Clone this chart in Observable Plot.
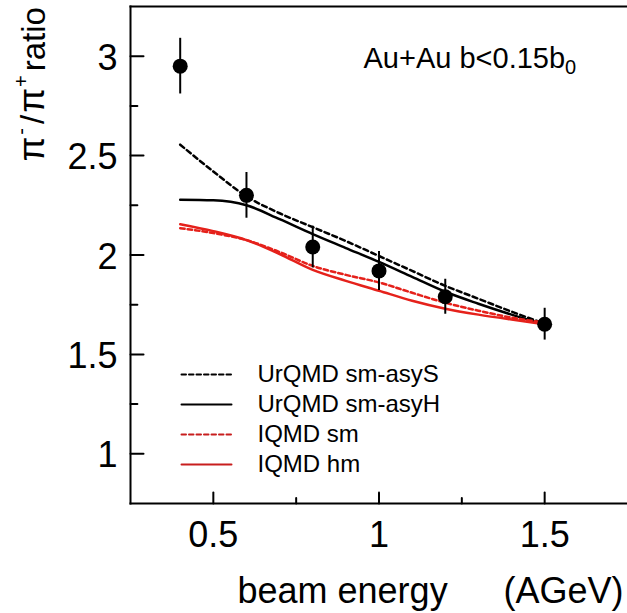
<!DOCTYPE html>
<html>
<head>
<meta charset="utf-8">
<script src="https://cdn.jsdelivr.net/npm/d3@7"></script>
<script src="https://cdn.jsdelivr.net/npm/@observablehq/plot@0.6"></script>
<style>
  html, body { margin: 0; padding: 0; background: #fff; }
</style>
</head>
<body>
<div id="chart"></div>
<script>
// ---- data ----
const energies = [0.4, 0.6, 0.8, 1.0, 1.2, 1.5];
const ratio    = [2.95, 2.30, 2.04, 1.92, 1.79, 1.652];
const ratioErr = [0.14, 0.115, 0.105, 0.098, 0.088, 0.08];

const curveEnergies = [0.4, 0.5, 0.6, 0.7, 0.8, 0.9, 1.0, 1.1, 1.2, 1.3, 1.4, 1.5];
const urqmdAsyS = [2.555, 2.42, 2.295, 2.21, 2.14, 2.07, 1.995, 1.92, 1.845, 1.78, 1.715, 1.655];
const urqmdAsyH = [2.278, 2.275, 2.25, 2.18, 2.105, 2.035, 1.965, 1.89, 1.815, 1.755, 1.70, 1.65];
const iqmdSm    = [2.135, 2.11, 2.075, 2.015, 1.945, 1.90, 1.862, 1.81, 1.76, 1.72, 1.685, 1.66];
const iqmdHm    = [2.155, 2.12, 2.075, 2.005, 1.925, 1.87, 1.82, 1.77, 1.73, 1.70, 1.675, 1.652];

const legendLabels = ["UrQMD sm-asyS", "UrQMD sm-asyH", "IQMD sm", "IQMD hm"];
const xTicksMajor = [0.5, 1, 1.5];
const xTicksMinor = [0.75, 1.25];
const yTicksMajor = [1, 1.5, 2, 2.5, 3];
const yTicksMinor = [1.25, 1.75, 2.25, 2.75];
const xLabelMain = "beam energy";
const xLabelUnit = "(AGeV)";
const yLabel = "π-/π+ratio";
const annotation = "Au+Au b<0.15b";
const annotationSub = "0";

// ---- layout ----
const W = 627, H = 613, ML = 130, MR = 0, MT = 6, MB = 110;
const frameW = W - ML - MR, frameH = H - MT - MB;
const xDomain = [0.25, 1.75], yDomain = [0.75, 3.25];

// ---- derived tables ----
const points = energies.map((e, i) => ({e, r: ratio[i], lo: ratio[i] - ratioErr[i], hi: ratio[i] + ratioErr[i]}));
const seriesDefs = [
  {name: legendLabels[0], values: urqmdAsyS, stroke: "#000", dash: "5,3.5", legendStroke: "#000"},
  {name: legendLabels[1], values: urqmdAsyH, stroke: "#000", dash: null, legendStroke: "#000"},
  {name: legendLabels[2], values: iqmdSm, stroke: "#e5211b", dash: "4.5,3", legendStroke: "#c81e1e"},
  {name: legendLabels[3], values: iqmdHm, stroke: "#e5211b", dash: null, legendStroke: "#c81e1e"}
];
const series = seriesDefs.map(s => ({...s, data: curveEnergies.map((e, i) => ({e, v: s.values[i]}))}));
const yTickSpecs = [...yTicksMajor.map(v => ({v, len: 19})), ...yTicksMinor.map(v => ({v, len: 10}))];
const xTickSpecs = [...xTicksMajor.map(v => ({v, len: 16})), ...xTicksMinor.map(v => ({v, len: 8}))];

const hLine = {draw(ctx, l) { ctx.moveTo(0, 0); ctx.lineTo(l, 0); }};
const vLine = {draw(ctx, l) { ctx.moveTo(0, 0); ctx.lineTo(0, -l); }};
const fmt = d => String(d);

const marks = [];
// curves
series.forEach(s => {
  marks.push(Plot.line(s.data, {x: "e", y: "v", stroke: s.stroke, strokeWidth: 2.5,
    strokeDasharray: s.dash ?? undefined, curve: "monotone-x"}));
});
// data points
marks.push(Plot.ruleX(points, {x: "e", y1: "lo", y2: "hi", stroke: "#000", strokeWidth: 2}));
marks.push(Plot.dot(points, {x: "e", y: "r", r: 7.5, fill: "#000", stroke: null}));

// frame (top, left, bottom)
marks.push(Plot.frame({anchor: "top", strokeWidth: 2}));
marks.push(Plot.frame({anchor: "left", strokeWidth: 2}));
marks.push(Plot.frame({anchor: "bottom", strokeWidth: 2}));

// inward ticks: vectors positioned by the scales, lengths given per tick
marks.push(Plot.vector(yTickSpecs, {x: () => xDomain[0], y: "v", length: "len", rotate: 0, anchor: "start",
  shape: hLine, stroke: "#000", strokeWidth: 2}));
marks.push(Plot.vector(xTickSpecs, {x: "v", y: () => yDomain[0], length: "len", rotate: 0, anchor: "start",
  shape: vLine, stroke: "#000", strokeWidth: 2}));

// tick labels
marks.push(Plot.axisY({ticks: yTicksMajor, tickSize: 0, tickPadding: 13, fontSize: 36, dy: 2, tickFormat: fmt, label: null}));
marks.push(Plot.axisX({ticks: xTicksMajor, tickSize: 0, tickPadding: 18, fontSize: 36, tickFormat: fmt, label: null}));

// axis titles
marks.push(Plot.text([xLabelMain], {text: d => d, frameAnchor: "bottom-left", dx: 107, dy: 99,
  textAnchor: "start", lineAnchor: "bottom", fontSize: 36}));
marks.push(Plot.text([xLabelUnit], {text: d => d, frameAnchor: "bottom-right", dx: -4, dy: 99,
  textAnchor: "end", lineAnchor: "bottom", fontSize: 36}));
marks.push(Plot.text([yLabel], {text: d => d, frameAnchor: "top-left", dx: -87, dy: 157, rotate: -90,
  textAnchor: "start", lineAnchor: "bottom", fontSize: 32}));

// annotation
marks.push(Plot.text([annotation], {text: d => d, frameAnchor: "top-left", dx: 233, dy: 61,
  textAnchor: "start", lineAnchor: "bottom", fontSize: 29}));

// legend
series.forEach((s, i) => {
  marks.push(Plot.vector([0], {frameAnchor: "top-left", dx: 51, dy: 368 + i * 30, length: 50, rotate: 0,
    anchor: "start", shape: hLine, stroke: s.legendStroke, strokeWidth: 2,
    strokeDasharray: s.dash ? "4.5,3" : undefined}));
  marks.push(Plot.text([s.name], {text: d => d, frameAnchor: "top-left", dx: 127, dy: 368 + i * 30,
    textAnchor: "start", lineAnchor: "middle", fontSize: 24}));
});

const chart = Plot.plot({
  width: W,
  height: H,
  marginLeft: ML,
  marginRight: MR,
  marginTop: MT,
  marginBottom: MB,
  x: {domain: xDomain},
  y: {domain: yDomain},
  style: {fontFamily: "'Liberation Sans', Arial, Helvetica, sans-serif", background: "#fff", color: "#000"},
  marks
});

// rich text: superscripts / subscripts
d3.select(chart).selectAll("text").each(function() {
  const t = this.textContent;
  if (t === annotation) {
    d3.select(this).append("tspan").attr("dy", "0.32em").attr("font-size", 20).text(annotationSub);
  } else if (t === yLabel) {
    const el = d3.select(this);
    el.text("");
    el.append("tspan").attr("font-size", 36).attr("dx", 2).text("π");
    el.append("tspan").attr("font-size", 20).attr("dy", "-0.8em").attr("dx", 2).text("-");
    el.append("tspan").attr("font-size", 33).attr("dy", "0.5em").attr("dx", 4).text("/");
    el.append("tspan").attr("font-size", 36).attr("dx", 2).text("π");
    el.append("tspan").attr("font-size", 20).attr("dy", "-0.8em").attr("dx", 1).text("+");
    el.append("tspan").attr("font-size", 33).attr("dy", "0.5em").attr("dx", 4).text("ratio");
  }
});

document.getElementById("chart").appendChild(chart);
</script>
</body>
</html>
